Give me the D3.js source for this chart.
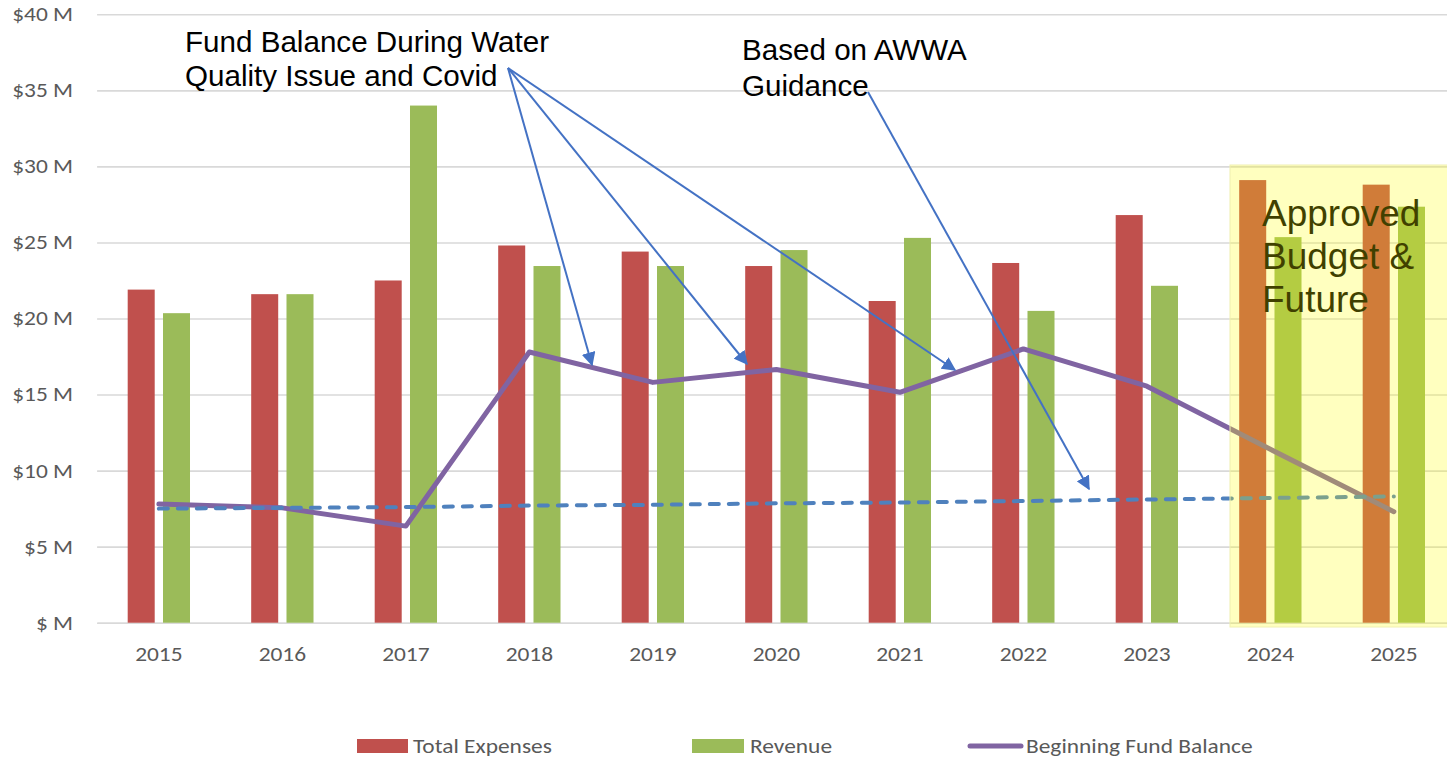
<!DOCTYPE html>
<html>
<head>
<meta charset="utf-8">
<script src="https://cdn.jsdelivr.net/npm/d3@7"></script>
<style>
  html, body { margin: 0; padding: 0; background: #fff; }
  svg { display: block; }
  .tick text { font-family: "Carlito", "Open Sans", sans-serif; }
</style>
</head>
<body>
<svg id="chart" width="1447" height="759"></svg>
<script>
// ---- data ----
const years = ["2015","2016","2017","2018","2019","2020","2021","2022","2023","2024","2025"];
const totalExpenses = [21.9, 21.6, 22.5, 24.8, 24.4, 23.45, 21.15, 23.65, 26.8, 29.1, 28.8];
const revenue       = [20.35, 21.6, 34.0, 23.45, 23.45, 24.5, 25.3, 20.5, 22.15, 25.35, 27.35];
const fundBalance   = [7.8, 7.55, 6.35, 17.8, 15.8, 16.65, 15.15, 18.0, 15.55, 11.4, 7.3];
const awwaGuidance  = [7.5, 7.55, 7.6, 7.7, 7.75, 7.85, 7.9, 8.0, 8.1, 8.2, 8.3];
const yTicks = [0, 5, 10, 15, 20, 25, 30, 35, 40];
const seriesNames = ["Total Expenses", "Revenue", "Beginning Fund Balance"];
const note1 = ["Fund Balance During Water", "Quality Issue and Covid"];
const note2 = ["Based on AWWA", "Guidance"];
const note3 = ["Approved", "Budget &", "Future"];

(function () {
// ---- layout ----
const svg = d3.select("#chart");
const pL = 97.1, pR = 1455.6, pT = 14.3, pB = 622.7;
const RED = "#C0504D", GREEN = "#9BBB59", PURPLE = "#8064A2", BLUE = "#4F81BD", ARROW = "#4472C4";
const GRID = "#D9D9D9", TXT = "#595959";
const STRETCH = 1.17;

function widen(sel) {
  sel.each(function () {
    const w = this.getComputedTextLength();
    d3.select(this).attr("textLength", w * STRETCH).attr("lengthAdjust", "spacingAndGlyphs");
  });
}

const x = d3.scaleBand().domain(years).range([pL, pR]).paddingInner(0.4955).paddingOuter(0.4955 / 2);
const x1 = d3.scaleBand().domain(["exp", "rev"]).range([0, x.bandwidth()]).paddingInner(0.235);
const y = d3.scaleLinear().domain([0, 40]).range([pB, pT]);
const cx = d => x(d) + x.bandwidth() / 2;

// gridlines
const yAxis = d3.axisLeft(y).tickValues(yTicks).tickSize(-(pR - pL)).tickPadding(24)
  .tickFormat(d => d === 0 ? "$ M" : "$" + d + " M");
const gy = svg.append("g").attr("transform", `translate(${pL},0)`).call(yAxis);
gy.select(".domain").remove();
gy.selectAll(".tick line").attr("stroke", GRID).attr("stroke-width", 1.6);
gy.selectAll(".tick text").attr("fill", TXT).attr("font-size", 20).call(widen);

// x axis
const xAxis = d3.axisBottom(x).tickSize(0).tickPadding(24);
const gx = svg.append("g").attr("transform", `translate(0,${pB})`).call(xAxis);
gx.select(".domain").attr("stroke", GRID).attr("stroke-width", 1.6);
gx.selectAll(".tick text").attr("fill", TXT).attr("font-size", 20).call(widen);

// bars
const groups = svg.append("g").selectAll("g").data(years).join("g")
  .attr("transform", d => `translate(${x(d)},0)`);
groups.append("rect")
  .attr("x", x1("exp")).attr("width", x1.bandwidth())
  .attr("y", (d, i) => y(totalExpenses[i])).attr("height", (d, i) => y(0) - y(totalExpenses[i]))
  .attr("fill", RED);
groups.append("rect")
  .attr("x", x1("rev")).attr("width", x1.bandwidth())
  .attr("y", (d, i) => y(revenue[i])).attr("height", (d, i) => y(0) - y(revenue[i]))
  .attr("fill", GREEN);

// fund balance line
const line = d3.line().x((d, i) => cx(years[i])).y(d => y(d));
svg.append("path").datum(fundBalance).attr("d", line)
  .attr("fill", "none").attr("stroke", PURPLE).attr("stroke-width", 5)
  .attr("stroke-linejoin", "round").attr("stroke-linecap", "round");

// AWWA guidance dashed line
svg.append("path").datum(awwaGuidance).attr("d", line)
  .attr("fill", "none").attr("stroke", BLUE).attr("stroke-width", 4)
  .attr("stroke-dasharray", "9 10").attr("stroke-linecap", "round");

// annotations
const defs = svg.append("defs");
defs.append("marker").attr("id", "arr").attr("viewBox", "0 0 10 10")
  .attr("refX", 9).attr("refY", 5).attr("markerWidth", 7).attr("markerHeight", 7)
  .attr("markerUnits", "strokeWidth").attr("orient", "auto")
  .append("path").attr("d", "M0,0 L10,5 L0,10 Z").attr("fill", ARROW);

const arrows = [
  [508, 68, 592, 365],
  [508, 68, 747, 364],
  [508, 68, 955, 370],
  [868, 92, 1089, 489]
];
svg.append("g").selectAll("line").data(arrows).join("line")
  .attr("x1", d => d[0]).attr("y1", d => d[1]).attr("x2", d => d[2]).attr("y2", d => d[3])
  .attr("stroke", ARROW).attr("stroke-width", 2).attr("marker-end", "url(#arr)");

function block(lines, x0, y0, size, lh) {
  const t = svg.append("text").attr("font-family", "'Liberation Sans', Arial, sans-serif")
    .attr("font-size", size).attr("fill", "#000");
  lines.forEach((s, i) => t.append("tspan").attr("x", x0).attr("y", y0 + i * lh).text(s));
}
block(note1, 185, 52, 29.6, 34);
block(note2, 742, 60, 29.6, 36);
block(note3, 1262, 226, 37, 43);

// approved budget overlay
svg.append("rect").attr("x", 1230).attr("y", 165).attr("width", 240).attr("height", 462)
  .attr("fill", "#FFFF00").attr("fill-opacity", 0.25)
  .attr("stroke", "#F0F0B0").attr("stroke-width", 1);

// legend
const leg = svg.append("g").attr("font-family", "'Carlito', 'Open Sans', sans-serif").attr("font-size", 20).attr("fill", TXT);
const legX = [357, 692, 968];
leg.append("rect").attr("x", legX[0]).attr("y", 739).attr("width", 51).attr("height", 14).attr("fill", RED);
leg.append("rect").attr("x", legX[1]).attr("y", 739).attr("width", 52).attr("height", 14).attr("fill", GREEN);
leg.append("line").attr("x1", legX[2] + 2).attr("x2", legX[2] + 53).attr("y1", 746).attr("y2", 746)
  .attr("stroke", PURPLE).attr("stroke-width", 5).attr("stroke-linecap", "round");
leg.append("text").attr("x", 413).attr("y", 753).text(seriesNames[0]);
leg.append("text").attr("x", 750).attr("y", 753).text(seriesNames[1]);
leg.append("text").attr("x", 1026).attr("y", 753).text(seriesNames[2]);
leg.selectAll("text").call(widen);
})();
</script>
</body>
</html>
